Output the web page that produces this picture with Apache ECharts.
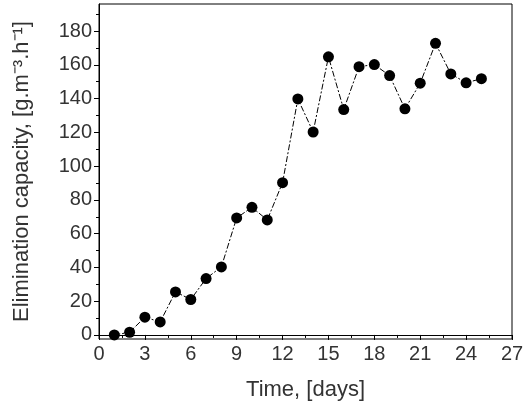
<!DOCTYPE html>
<html><head><meta charset="utf-8">
<script src="https://cdn.jsdelivr.net/npm/echarts@6/dist/echarts.min.js"></script>
<style>html,body{margin:0;padding:0;background:#fff}#c{width:523px;height:410px}</style>
</head><body><div id="c"></div>
<script>
const days = [1,2,3,4,5,6,7,8,9,10,11,12,13,14,15,16,17,18,19,20,21,22,23,24,25];
const capacity = [0,1.6,10.5,7.7,25.5,21,33.4,40.3,69.3,75.6,68.1,90.2,139.8,120.2,164.7,133.5,158.9,160.1,153.6,133.9,149.1,172.7,154.6,149.3,151.8];
const yTicks = [0,20,40,60,80,100,120,140,160,180];
const yMinor = [10,30,50,70,90,110,130,150,170,190];
const chart = echarts.init(document.getElementById('c'));
const font = 'Liberation Sans, Arial, sans-serif';
chart.setOption({
  animation:false,
  grid:{left:99,right:11,top:4,bottom:71,show:true,borderColor:'#000',borderWidth:1,outerBoundsMode:'none',containLabel:false},
  xAxis:{type:'value',min:0,max:27,interval:3,
    name:'Time, [days]',nameLocation:'middle',nameGap:40,
    nameTextStyle:{fontFamily:font,fontSize:22,color:'#333'},
    axisLine:{lineStyle:{color:'#000'}},
    axisTick:{inside:false,length:5,lineStyle:{color:'#000'}},
    minorTick:{show:true,splitNumber:2,length:3,lineStyle:{color:'#000'}},
    axisLabel:{fontFamily:font,fontSize:20,color:'#333',margin:5},
    splitLine:{show:false}},
  yAxis:[{type:'value',min:-2.4,max:196,
    name:'Elimination capacity, [g.m⁻³.h⁻¹]',nameLocation:'middle',nameGap:66,
    nameTextStyle:{fontFamily:font,fontSize:22,color:'#333'},
    axisLine:{lineStyle:{color:'#000'}},
    axisTick:{length:5,customValues:yTicks,lineStyle:{color:'#000'}},
    axisLabel:{fontFamily:font,fontSize:20,color:'#333',customValues:yTicks,margin:7},
    splitLine:{show:false}},
   {type:'value',min:-2.4,max:196,position:'left',
    axisLine:{show:false},
    axisTick:{length:3,customValues:yMinor,lineStyle:{color:'#000'}},
    axisLabel:{show:false,customValues:yMinor},
    splitLine:{show:false}}],
  series:[{type:'line',data:days.map((d,i)=>[d,capacity[i]]),
    symbol:'circle',symbolSize:11,
    itemStyle:{color:'#000'},
    lineStyle:{color:'#000',width:1,type:[6,2,2,2]}}]
});
</script></body></html>
